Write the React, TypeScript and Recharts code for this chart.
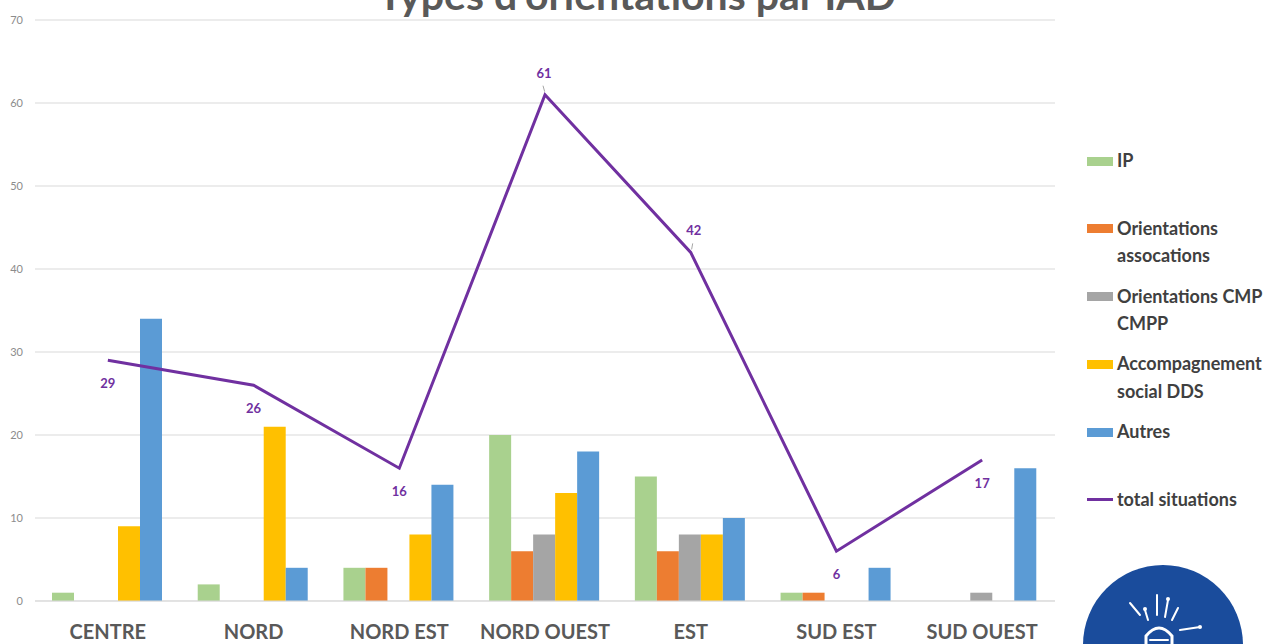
import React from 'react'
import {
    ComposedChart,
    Bar,
    Line,
    XAxis,
    YAxis,
    CartesianGrid,
    Legend,
} from 'recharts'

const regions = ['CENTRE', 'NORD', 'NORD EST', 'NORD OUEST', 'EST', 'SUD EST', 'SUD OUEST']
const ip = [1, 2, 4, 20, 15, 1, 0]
const orientationsAssoc = [0, 0, 4, 6, 6, 1, 0]
const orientationsCmp = [0, 0, 0, 8, 8, 0, 1]
const accompagnementDds = [9, 21, 8, 13, 8, 0, 0]
const autres = [34, 4, 14, 18, 10, 4, 16]
const totalSituations = [29, 26, 16, 61, 42, 6, 17]
const yTicks = [0, 10, 20, 30, 40, 50, 60, 70]

const series = [
    { key: 'ip', label: ['IP'], color: '#A9D18E' },
    { key: 'assoc', label: ['Orientations', 'assocations'], color: '#ED7D31' },
    { key: 'cmp', label: ['Orientations CMP', 'CMPP'], color: '#A5A5A5' },
    { key: 'dds', label: ['Accompagnement', 'social DDS'], color: '#FFC000' },
    { key: 'autres', label: ['Autres'], color: '#5B9BD5' },
]
const lineColor = '#7030A0'
const FONT = 'Lato, "Open Sans", sans-serif'

const data = regions.map((name, i) => ({
    name,
    ip: ip[i],
    assoc: orientationsAssoc[i],
    cmp: orientationsCmp[i],
    dds: accompagnementDds[i],
    autres: autres[i],
    total: totalSituations[i],
}))

// labels drawn above the point (with a small leader line) instead of below
const ABOVE = new Set([3, 4])

function TotalLabel(props: any) {
    const { x, y, value, index } = props
    if (ABOVE.has(index)) {
        const dx = index === 4 ? 3 : -1
        return (
            <g>
                <line x1={x + dx * 0.3} y1={y - 3} x2={x + dx - 1} y2={y - 9} stroke="#a6a6a6" strokeWidth={1} />
                <text x={x + dx} y={y - 17} textAnchor="middle" fill={lineColor} fontSize={13} fontWeight={700} fontFamily={FONT}>
                    {value}
                </text>
            </g>
        )
    }
    return (
        <text x={x} y={y + 28} textAnchor="middle" fill={lineColor} fontSize={13} fontWeight={700} fontFamily={FONT}>
            {value}
        </text>
    )
}

function LegendBox() {
    const items = [...series.map((s) => ({ ...s, line: false })), { key: 'total', label: ['total situations'], color: lineColor, line: true }]
    return (
        <div style={{ fontFamily: FONT, fontSize: 18, fontWeight: 700, color: '#404040' }}>
            {items.map((it) => (
                <div key={it.key} style={{ height: 67.8, position: 'relative' }}>
                    <div
                        style={{
                            position: 'absolute',
                            left: 0,
                            top: it.line ? 12.5 : 9.5,
                            width: 26,
                            height: it.line ? 3 : 9,
                            background: it.color,
                        }}
                    />
                    <div style={{ position: 'absolute', left: 30, top: 0, lineHeight: '27.5px', whiteSpace: 'nowrap' }}>
                        {it.label.map((l) => (
                            <div key={l}>{l}</div>
                        ))}
                    </div>
                </div>
            ))}
        </div>
    )
}

export default function App() {
    return (
        <div style={{ position: 'absolute', left: 0, top: 0, width: 1268, height: 644, overflow: 'hidden', background: '#fff' }}>
            <ComposedChart
                width={1268}
                height={644}
                data={data}
                margin={{ top: 20, right: 213, bottom: 0, left: 0 }}
                barCategoryGap={17}
                barGap={0}
            >
                <CartesianGrid vertical={false} stroke="#d9d9d9" />
                <XAxis
                    dataKey="name"
                    height={43}
                    axisLine={{ stroke: '#d9d9d9' }}
                    tickLine={false}
                    tickMargin={18}
                    interval={0}
                    tick={{ fill: '#595959', fontSize: 20, fontWeight: 700, fontFamily: FONT }}
                />
                <YAxis
                    width={35}
                    domain={[0, 70]}
                    ticks={yTicks}
                    axisLine={false}
                    tickLine={false}
                    tickMargin={6}
                    tick={{ fill: '#8c8c8c', fontSize: 11, fontFamily: FONT }}
                />
                {series.map((s) => (
                    <Bar key={s.key} dataKey={s.key} fill={s.color} isAnimationActive={false} />
                ))}
                <Line
                    dataKey="total"
                    stroke={lineColor}
                    strokeWidth={3}
                    dot={false}
                    activeDot={false}
                    isAnimationActive={false}
                    label={<TotalLabel />}
                />
                <Legend
                    layout="horizontal"
                    verticalAlign="middle"
                    content={<LegendBox />}
                    wrapperStyle={{ position: 'absolute', left: 1087, top: 147, width: 180 }}
                />
            </ComposedChart>
            <svg width={1268} height={644} style={{ position: 'absolute', left: 0, top: 0, pointerEvents: 'none' }}>
                <text x={637} y={10} textAnchor="middle" fill="#595959" fontSize={41} fontWeight={700} fontFamily={FONT}>
                    Types d'orientations par IAD
                </text>
                <circle cx={1163} cy={645} r={80} fill="#1A4C9C" />
                <g stroke="#fff" strokeWidth={2} strokeLinecap="round" fill="none">
                    <line x1={1130} y1={603} x2={1140} y2={615} />
                    <line x1={1145} y1={610} x2={1148} y2={620} />
                    <line x1={1157} y1={595} x2={1157} y2={615} />
                    <line x1={1168} y1={600} x2={1165} y2={617} />
                    <line x1={1178} y1={608} x2={1172} y2={620} />
                    <line x1={1200} y1={627} x2={1180} y2={630} />
                    <path d="M1146 644 L1146 636 Q1159 620 1172 636 L1172 644" strokeWidth={3} />
                    <line x1={1150} y1={640} x2={1168} y2={640} />
                </g>
                <g fill="#fff">
                    <circle cx={1168} cy={599} r={2} />
                    <circle cx={1145} cy={609} r={2} />
                    <circle cx={1200} cy={627} r={2} />
                </g>
            </svg>
        </div>
    )
}
